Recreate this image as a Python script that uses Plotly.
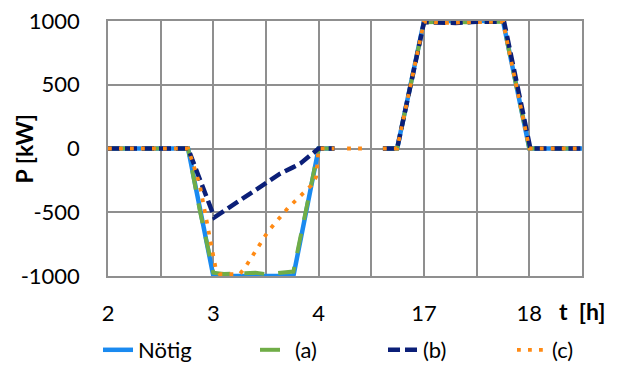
import plotly.graph_objects as go

# Axis positions: 1 unit = 1 hour on a compressed time axis (4 -> 17 is one step)
tick_pos = [2, 3, 4, 5, 6]
tick_text = ["2", "3", "4", "17", "18"]
y_tick_vals = [-1000, -500, 0, 500, 1000]
y_tick_text = ["-1000", "-500", "0", "500", "1000"]

# Nötig (required power)
x_noetig = [2.0, 2.76, 3.0, 3.76, 4.0, 4.15, None, 4.61, 4.745, 5.0, 5.75, 6.0, 6.5]
y_noetig = [0, 0, -1000, -1000, 0, 0, None, 0, 0, 1000, 1000, 0, 0]

# (a)
x_a = [2.0, 2.76, 2.87, 3.0, 3.1, 3.25, 3.4, 3.5, 3.65, 3.76, 4.0, 4.15, None,
       4.61, 4.745, 5.0, 5.2, 5.4, 5.6, 5.75, 6.0, 6.5]
y_a = [0, 0, -480, -975, -985, -980, -975, -985, -975, -965, 0, 0, None,
       0, 0, 990, 995, 990, 995, 995, 0, 0]

# (b)
x_b = [2.0, 2.76, 3.01, 3.25, 3.5, 3.63, 3.75, 3.83, 4.0, 4.15, None,
       4.61, 4.745, 5.0, 5.3, 5.5, 5.76, 6.01, 6.5]
y_b = [0, 0, -540, -410, -278, -200, -150, -115, 0, 0, None,
       0, 0, 990, 985, 995, 995, 0, 0]

# (c)
x_c = [2.0, 2.76, 2.87, 2.93, 2.98, 3.02, 3.06, 3.25, 3.30, 3.52, 3.71, 3.85,
       3.93, 3.975, 4.0, 4.15, None, 4.27, 4.46, None,
       4.61, 4.745, 5.0, 5.2, 5.4, 5.6, 5.75, 6.0, 6.5]
y_c = [0, 0, -280, -530, -760, -930, -985, -985, -935, -650, -465, -350,
       -290, -225, 0, 0, None, 0, 0, None,
       0, 0, 995, 985, 990, 995, 995, 0, 0]

FONT = "Lato, 'Open Sans', sans-serif"
FS = 22
GRID = "#8f8f8f"

fig = go.Figure()
fig.add_trace(go.Scatter(x=x_noetig, y=y_noetig, name="Nötig", mode="lines",
                         line=dict(color="#1a8af0", width=4.5), legend="legend"))
fig.add_trace(go.Scatter(x=x_a, y=y_a, name="(a)", mode="lines",
                         line=dict(color="#70ad47", width=4, dash="20px,14px"), legend="legend2"))
fig.add_trace(go.Scatter(x=x_b, y=y_b, name="(b)", mode="lines",
                         line=dict(color="#0b1f78", width=4.5, dash="12px,5px"), legend="legend3"))
fig.add_trace(go.Scatter(x=x_c, y=y_c, name="(c)", mode="lines",
                         line=dict(color="#ff8a14", width=3.8, dash="3.8px,7.2px"), legend="legend4"))

leg_common = dict(orientation="h", y=(276 - 350) / 255, yanchor="middle", xanchor="left",
                  font=dict(family=FONT, size=FS, color="#000"), bgcolor="rgba(0,0,0,0)",
                  borderwidth=0)

# page body has an 8px margin, so the figure is drawn 8px smaller and offset
fig.update_layout(
    width=611, height=359,
    margin=dict(l=100, r=37, t=13, b=91, autoexpand=False),
    plot_bgcolor="white", paper_bgcolor="white",
    font=dict(family=FONT, size=FS, color="#000"),
    showlegend=True,
    legend=dict(x=(98 - 108) / 474, **leg_common),
    legend2=dict(x=(255 - 108) / 474, **leg_common),
    legend3=dict(x=(383 - 108) / 474, **leg_common),
    legend4=dict(x=(512 - 108) / 474, **leg_common),
    xaxis=dict(range=[2, 6.5], tickvals=tick_pos, ticktext=tick_text,
               showgrid=True, gridcolor=GRID, gridwidth=1.5,
               minor=dict(dtick=0.5, tick0=2, showgrid=True, gridcolor=GRID, gridwidth=1.5),
               showline=True, linecolor=GRID, linewidth=1.5, mirror=True,
               zeroline=False, ticks="", ticklabelstandoff=17, ticklabeloverflow="allow",
               tickfont=dict(family=FONT, size=FS, color="#000")),
    yaxis=dict(range=[-1000, 1000], tickvals=y_tick_vals, ticktext=y_tick_text,
               showgrid=True, gridcolor=GRID, gridwidth=1.5,
               showline=True, linecolor=GRID, linewidth=1.5, mirror=True,
               zeroline=False, ticks="", ticklabelstandoff=22, ticklabeloverflow="allow",
               tickfont=dict(family=FONT, size=FS, color="#000")),
    annotations=[
        dict(text="<b>P [kW]</b>", textangle=-90, xref="paper", yref="paper",
             x=(23 - 108) / 474, y=0.5, xanchor="center", yanchor="middle",
             showarrow=False, font=dict(family=FONT, size=23, color="#000")),
        dict(text="<b>t  [h]</b>", xref="paper", yref="paper",
             x=(582 - 108) / 474, y=(276 - 311) / 255, xanchor="center", yanchor="middle",
             showarrow=False, font=dict(family=FONT, size=23, color="#000")),
    ],
)

fig.write_html("out.html")
